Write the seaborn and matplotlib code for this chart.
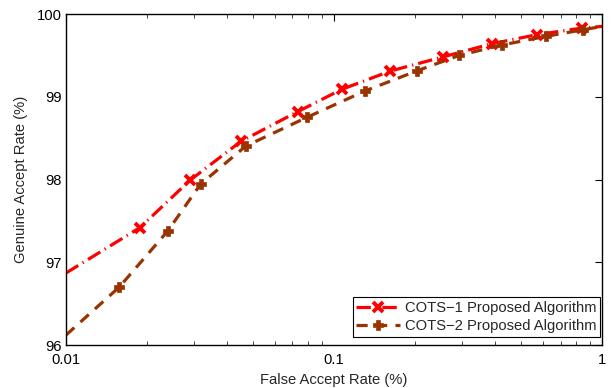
import matplotlib
matplotlib.use("Agg")
import matplotlib.pyplot as plt
import seaborn as sns
import numpy as np
import pandas as pd
from matplotlib.lines import Line2D
from matplotlib.ticker import FixedLocator, FixedFormatter, LogLocator, NullFormatter

# Data
far_cots1 = [0.01, 0.0189, 0.029, 0.0449, 0.0732, 0.107, 0.162, 0.254, 0.387, 0.571, 0.84, 1.0]
gar_cots1 = [96.87, 97.42, 97.99, 98.46, 98.82, 99.09, 99.31, 99.48, 99.64, 99.75, 99.83, 99.85]
far_cots2 = [0.01, 0.0158, 0.0240, 0.0318, 0.0469, 0.0791, 0.1305, 0.2046, 0.2935, 0.4224, 0.618, 0.851, 1.0]
gar_cots2 = [96.12, 96.70, 97.38, 97.945, 98.405, 98.75, 99.07, 99.315, 99.50, 99.625, 99.73, 99.81, 99.85]
labels = ["COTS\u22121 Proposed Algorithm", "COTS\u22122 Proposed Algorithm"]
x_ticks = [0.01, 0.1, 1]
x_tick_labels = ["0.01", "0.1", "1"]
y_ticks = [96, 97, 98, 99, 100]

sns.set_style("white")
plt.rcParams['font.family'] = ['Liberation Sans', 'DejaVu Sans']

fig = plt.figure(figsize=(6.15, 3.88), dpi=100)
ax = fig.add_axes([0.1073, 0.1108, 0.8716, 0.8531])

df1 = pd.DataFrame({"far": far_cots1, "gar": gar_cots1})
df2 = pd.DataFrame({"far": far_cots2, "gar": gar_cots2})

red = "#ff0000"
brown = "#993300"
fs = 10.6
dash1 = (4.5, 1.6, 0.4, 1.6)
dash2 = (3.5, 2.6)

sns.lineplot(data=df1, x="far", y="gar", ax=ax, color=red, lw=2.3,
             marker="x", markersize=7, markeredgewidth=2.8,
             markeredgecolor=red, markerfacecolor=red,
             markevery=list(range(1, len(far_cots1) - 1)),
             dashes=dash1, sort=False, legend=False)
sns.lineplot(data=df2, x="far", y="gar", ax=ax, color=brown, lw=2.3,
             marker="P", markersize=7.5, markeredgewidth=0.5,
             markeredgecolor=brown, markerfacecolor=brown,
             markevery=list(range(1, len(far_cots2) - 1)),
             dashes=dash2, sort=False, legend=False)

ax.set_xscale("log")
ax.set_xlim(0.01, 1)
ax.set_ylim(96, 100)
ax.xaxis.set_major_locator(FixedLocator(x_ticks))
ax.xaxis.set_major_formatter(FixedFormatter(x_tick_labels))
ax.xaxis.set_minor_locator(LogLocator(base=10, subs=np.arange(2, 10)))
ax.xaxis.set_minor_formatter(NullFormatter())
ax.set_yticks(y_ticks)
ax.set_yticklabels([str(v) for v in y_ticks])

ax.tick_params(axis="both", which="major", direction="in", length=5, width=0.8,
               top=True, right=True, labelsize=fs, colors="black", pad=3)
ax.tick_params(axis="x", which="major", pad=6)
ax.tick_params(axis="x", which="minor", direction="in", length=3, width=0.6,
               top=True, bottom=True)
for sp in ax.spines.values():
    sp.set_visible(True)
    sp.set_color("black")
    sp.set_linewidth(1.0)

ax.set_xlabel("False Accept Rate (%)", fontsize=fs, labelpad=4)
ax.set_ylabel("Genuine Accept Rate (%)", fontsize=fs, labelpad=6)

handles = [
    Line2D([], [], color=red, lw=2.3, dashes=dash1, marker="x", markersize=7,
           markeredgewidth=2.8),
    Line2D([], [], color=brown, lw=2.3, dashes=dash2, marker="P", markersize=7.5,
           markeredgewidth=0.5),
]
leg = ax.legend(handles, labels, loc="lower right", bbox_to_anchor=(0.9963, 0.024),
                fontsize=fs, frameon=True, fancybox=False,
                edgecolor="black", framealpha=1, borderpad=0.25, handlelength=3.0,
                handletextpad=0.3, labelspacing=0.3, borderaxespad=0)
leg.get_frame().set_linewidth(0.8)

fig.savefig("out.png", dpi=100)
